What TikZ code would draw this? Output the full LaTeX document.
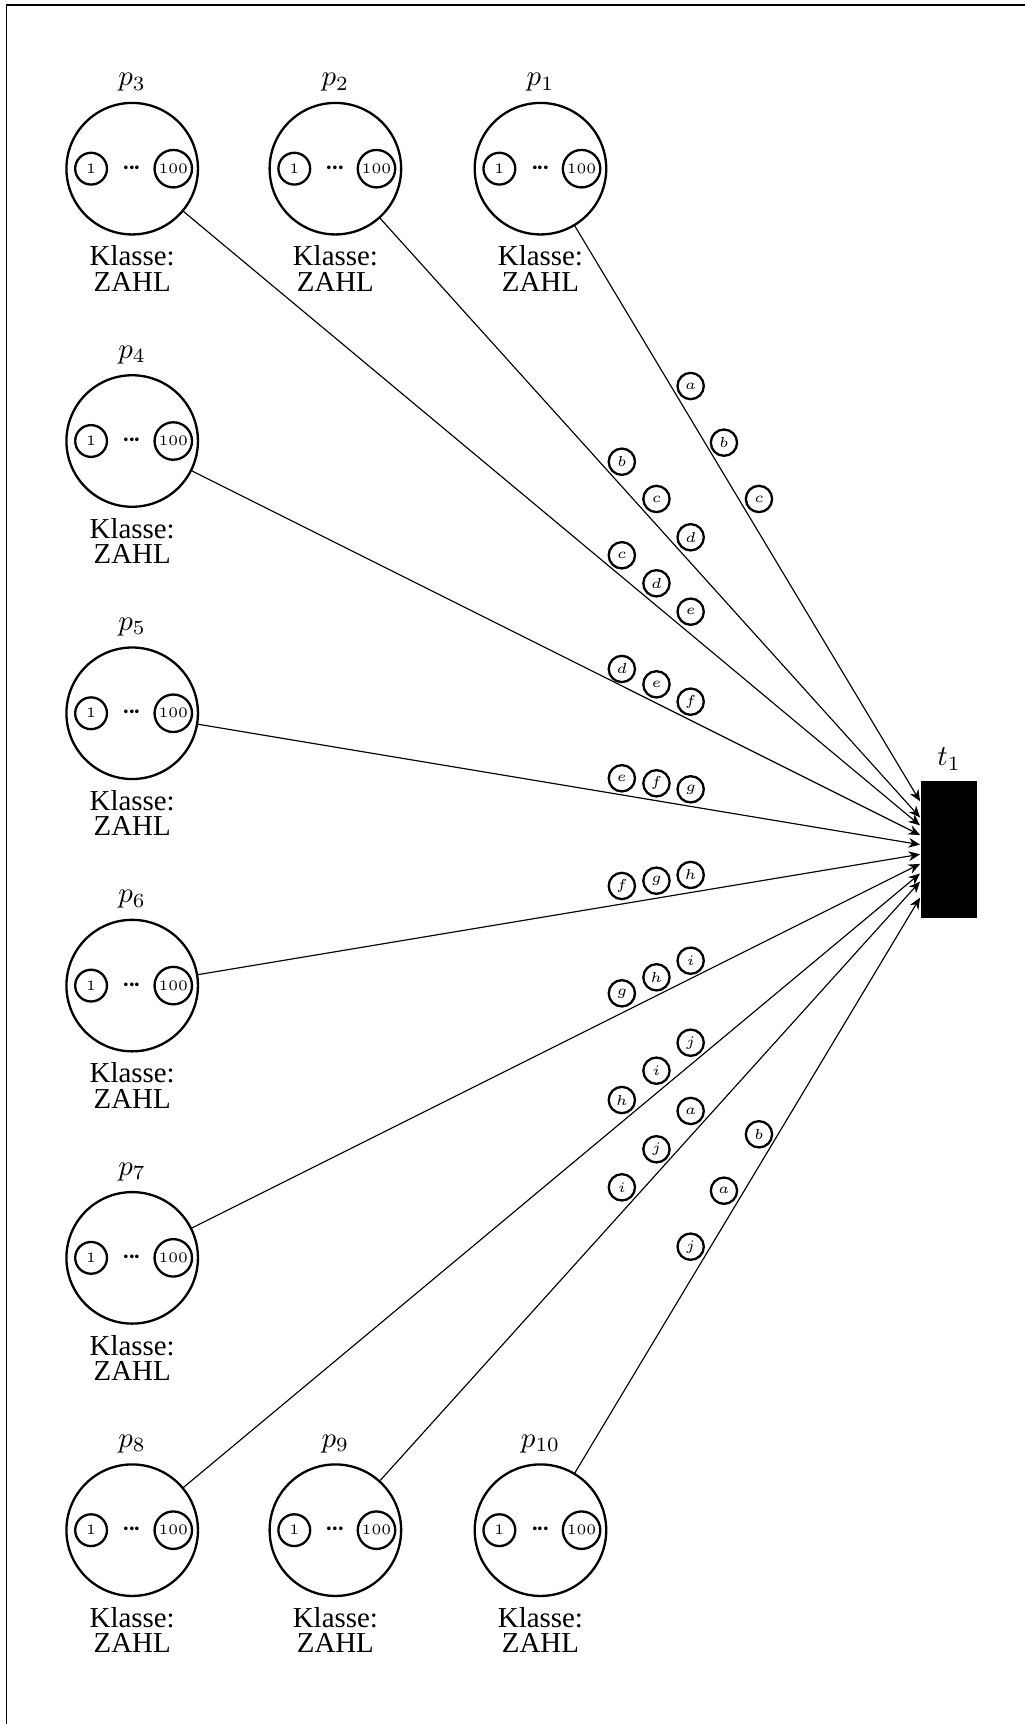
\documentclass[tikz,border=0pt]{standalone}
\usepackage[no-math]{fontspec}
\setmainfont{Liberation Serif}
\usepackage{tikz}
\usetikzlibrary{arrows.meta}
\newcommand{\tokdots}{\large${\cdot}\kern-1.4pt{\cdot}\kern-1.4pt{\cdot}$}

\begin{document}
\begin{tikzpicture}[>={Stealth[length=4pt,width=3.4pt,inset=1.3pt]},line cap=round,
  place/.style={circle,draw,thick,minimum size=1.6cm,inner sep=0pt},
  klasse/.style={label={[align=center,font=\fontsize{10}{8.75}\selectfont]below:Klasse:\\ZAHL}},
  trans/.style={rectangle,fill=black,minimum width=0.69cm,minimum height=1.67cm,inner sep=0pt},
  numtok/.style={circle,draw,thick,minimum size=11pt,inner sep=0.9pt,font=\tiny},
  vartok/.style={circle,draw,thick,fill=white,minimum size=9.1pt,inner sep=0pt,font=\tiny}]
\useasboundingbox (0,0) rectangle (12.469,-20.973);
\draw (0.079,-20.973) -- (0.079,-0.061) -- (12.469,-0.061);

% places
\node[place,klasse,label=above:$p_1$] (p1) at (6.575,-2.052) {\tokdots};
\node[place,klasse,label=above:$p_2$] (p2) at (4.080,-2.052) {\tokdots};
\node[place,klasse,label=above:$p_3$] (p3) at (1.608,-2.052) {\tokdots};
\node[place,klasse,label=above:$p_4$] (p4) at (1.608,-5.365) {\tokdots};
\node[place,klasse,label=above:$p_5$] (p5) at (1.608,-8.677) {\tokdots};
\node[place,klasse,label=above:$p_6$] (p6) at (1.608,-11.990) {\tokdots};
\node[place,klasse,label=above:$p_7$] (p7) at (1.608,-15.302) {\tokdots};
\node[place,klasse,label=above:$p_8$] (p8) at (1.608,-18.615) {\tokdots};
\node[place,klasse,label=above:$p_9$] (p9) at (4.080,-18.615) {\tokdots};
\node[place,klasse,label=above:$p_{10}$] (p10) at (6.575,-18.615) {\tokdots};

% tokens 1 ... 100 inside every place
\node[numtok] (p1l) at ([xshift=-0.5cm]p1.center) {$1$};
\node[numtok] (p1r) at ([xshift=0.5cm]p1.center) {$100$};
\node[numtok] (p2l) at ([xshift=-0.5cm]p2.center) {$1$};
\node[numtok] (p2r) at ([xshift=0.5cm]p2.center) {$100$};
\node[numtok] (p3l) at ([xshift=-0.5cm]p3.center) {$1$};
\node[numtok] (p3r) at ([xshift=0.5cm]p3.center) {$100$};
\node[numtok] (p4l) at ([xshift=-0.5cm]p4.center) {$1$};
\node[numtok] (p4r) at ([xshift=0.5cm]p4.center) {$100$};
\node[numtok] (p5l) at ([xshift=-0.5cm]p5.center) {$1$};
\node[numtok] (p5r) at ([xshift=0.5cm]p5.center) {$100$};
\node[numtok] (p6l) at ([xshift=-0.5cm]p6.center) {$1$};
\node[numtok] (p6r) at ([xshift=0.5cm]p6.center) {$100$};
\node[numtok] (p7l) at ([xshift=-0.5cm]p7.center) {$1$};
\node[numtok] (p7r) at ([xshift=0.5cm]p7.center) {$100$};
\node[numtok] (p8l) at ([xshift=-0.5cm]p8.center) {$1$};
\node[numtok] (p8r) at ([xshift=0.5cm]p8.center) {$100$};
\node[numtok] (p9l) at ([xshift=-0.5cm]p9.center) {$1$};
\node[numtok] (p9r) at ([xshift=0.5cm]p9.center) {$100$};
\node[numtok] (p10l) at ([xshift=-0.5cm]p10.center) {$1$};
\node[numtok] (p10r) at ([xshift=0.5cm]p10.center) {$100$};

% transition
\node[trans,label=above:$t_1$] (t1) at (11.545,-10.334) {};

% arcs
\draw[->] (p1) -- (t1);
\draw[->] (p2) -- (t1);
\draw[->] (p3) -- (t1);
\draw[->] (p4) -- (t1);
\draw[->] (p5) -- (t1);
\draw[->] (p6) -- (t1);
\draw[->] (p7) -- (t1);
\draw[->] (p8) -- (t1);
\draw[->] (p9) -- (t1);
\draw[->] (p10) -- (t1);

% variables along the arcs
\node[vartok] (v1a) at (8.402,-4.696) {$a$};
\node[vartok] (v1b) at (8.807,-5.385) {$b$};
\node[vartok] (v1c) at (9.233,-6.070) {$c$};
\node[vartok] (v2b) at (7.565,-5.617) {$b$};
\node[vartok] (v2c) at (7.986,-6.070) {$c$};
\node[vartok] (v2d) at (8.402,-6.536) {$d$};
\node[vartok] (v3c) at (7.565,-6.755) {$c$};
\node[vartok] (v3d) at (7.986,-7.096) {$d$};
\node[vartok] (v3e) at (8.402,-7.441) {$e$};
\node[vartok] (v4d) at (7.565,-8.138) {$d$};
\node[vartok] (v4e) at (7.986,-8.325) {$e$};
\node[vartok] (v4f) at (8.402,-8.536) {$f$};
\node[vartok] (v5e) at (7.565,-9.468) {$e$};
\node[vartok] (v5f) at (7.986,-9.529) {$f$};
\node[vartok] (v5g) at (8.402,-9.602) {$g$};
\node[vartok] (v6f) at (7.565,-10.778) {$f$};
\node[vartok] (v6g) at (7.986,-10.714) {$g$};
\node[vartok] (v6h) at (8.402,-10.644) {$h$};
\node[vartok] (v7g) at (7.565,-12.084) {$g$};
\node[vartok] (v7h) at (7.986,-11.889) {$h$};
\node[vartok] (v7i) at (8.402,-11.687) {$i$};
\node[vartok] (v8h) at (7.565,-13.382) {$h$};
\node[vartok] (v8i) at (7.986,-13.025) {$i$};
\node[vartok] (v8j) at (8.402,-12.685) {$j$};
\node[vartok] (v9i) at (7.565,-14.444) {$i$};
\node[vartok] (v9j) at (7.986,-13.981) {$j$};
\node[vartok] (v9a) at (8.402,-13.515) {$a$};
\node[vartok] (v10j) at (8.402,-15.166) {$j$};
\node[vartok] (v10a) at (8.807,-14.485) {$a$};
\node[vartok] (v10b) at (9.233,-13.799) {$b$};
\end{tikzpicture}
\end{document}
